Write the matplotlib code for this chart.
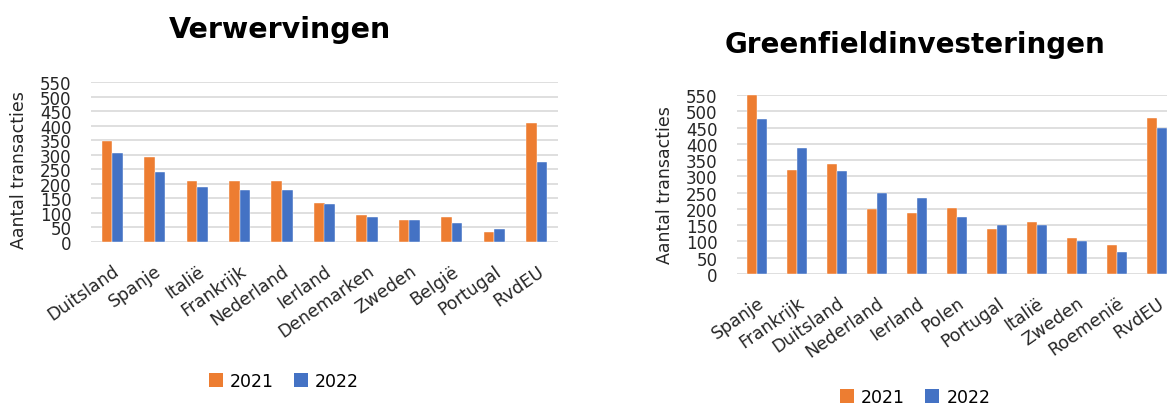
import matplotlib
matplotlib.use("Agg")
import matplotlib.pyplot as plt
import numpy as np
from matplotlib.patches import Patch

W, H = 1167, 406
DPI = 100

# Data
acq_countries = ["Duitsland", "Spanje", "Italië", "Frankrijk", "Nederland", "Ierland",
                 "Denemarken", "Zweden", "België", "Portugal", "RvdEU"]
acq_2021 = [346, 291, 208, 208, 208, 133, 92, 77, 87, 36, 408]
acq_2022 = [306, 239, 189, 180, 180, 129, 87, 77, 67, 46, 276]

gf_countries = ["Spanje", "Frankrijk", "Duitsland", "Nederland", "Ierland", "Polen",
                "Portugal", "Italië", "Zweden", "Roemenië", "RvdEU"]
gf_2021 = [550, 320, 337, 200, 187, 204, 138, 160, 111, 90, 479]
gf_2022 = [475, 386, 315, 249, 235, 174, 151, 151, 102, 67, 449]

y_ticks = list(range(0, 551, 50))
years = ["2021", "2022"]

C21 = "#ED7D31"
C22 = "#4472C4"
GRID = "#D9D9D9"
TXT = "#262626"

fig = plt.figure(figsize=(W / DPI, H / DPI), dpi=DPI)
fig.patch.set_facecolor("white")


def px_axes(x0, y_top, x1, y_bot):
    return fig.add_axes([x0 / W, 1 - y_bot / H, (x1 - x0) / W, (y_bot - y_top) / H])


def draw(ax, cats, v1, v2):
    x = np.arange(len(cats))
    bw = 0.25
    ax.bar(x - bw / 2, v1, bw, color=C21, zorder=3, edgecolor="white", linewidth=0.3)
    ax.bar(x + bw / 2, v2, bw, color=C22, zorder=3, edgecolor="white", linewidth=0.3)
    ax.set_xlim(-0.5, len(cats) - 0.5)
    ax.set_ylim(0, 550)
    ax.set_yticks(y_ticks)
    ax.set_yticklabels([str(t) for t in y_ticks], fontsize=12, color=TXT)
    ax.yaxis.grid(True, color=GRID, linewidth=1.2, zorder=0)
    ax.set_axisbelow(True)
    for s in ax.spines.values():
        s.set_visible(False)
    ax.tick_params(axis="both", length=0)
    ax.tick_params(axis="y", pad=14)
    ax.set_xticks(x)
    ax.set_xticklabels(cats, rotation=35, ha="right", rotation_mode="anchor",
                       fontsize=12.5, color=TXT)
    ax.tick_params(axis="x", pad=14)


ax1 = px_axes(91, 83, 558, 243)
draw(ax1, acq_countries, acq_2021, acq_2022)

ax2 = px_axes(737, 96, 1177, 275)
draw(ax2, gf_countries, gf_2021, gf_2022)

fig.text(280 / W, 1 - 30 / H, "Verwervingen", fontsize=20.5, fontweight="bold",
         ha="center", va="center", color="black")
fig.text(915 / W, 1 - 45 / H, "Greenfieldinvesteringen", fontsize=20, fontweight="bold",
         ha="center", va="center", color="black")

fig.text(19 / W, 1 - 170 / H, "Aantal transacties", fontsize=12.5, rotation=90,
         ha="center", va="center", color=TXT)
fig.text(665 / W, 1 - 185 / H, "Aantal transacties", fontsize=12.5, rotation=90,
         ha="center", va="center", color=TXT)

handles = [Patch(facecolor=C21), Patch(facecolor=C22)]
fig.legend(handles, years, loc="center", bbox_to_anchor=(284 / W, 1 - 382 / H),
           ncol=2, frameon=False, fontsize=12.5, handlelength=0.8, handleheight=0.8,
           handletextpad=0.4, columnspacing=1.2)
fig.legend(handles, years, loc="center", bbox_to_anchor=(915 / W, 1 - 398 / H),
           ncol=2, frameon=False, fontsize=12.5, handlelength=0.8, handleheight=0.8,
           handletextpad=0.4, columnspacing=1.2)

fig.savefig("out.png", dpi=DPI)
